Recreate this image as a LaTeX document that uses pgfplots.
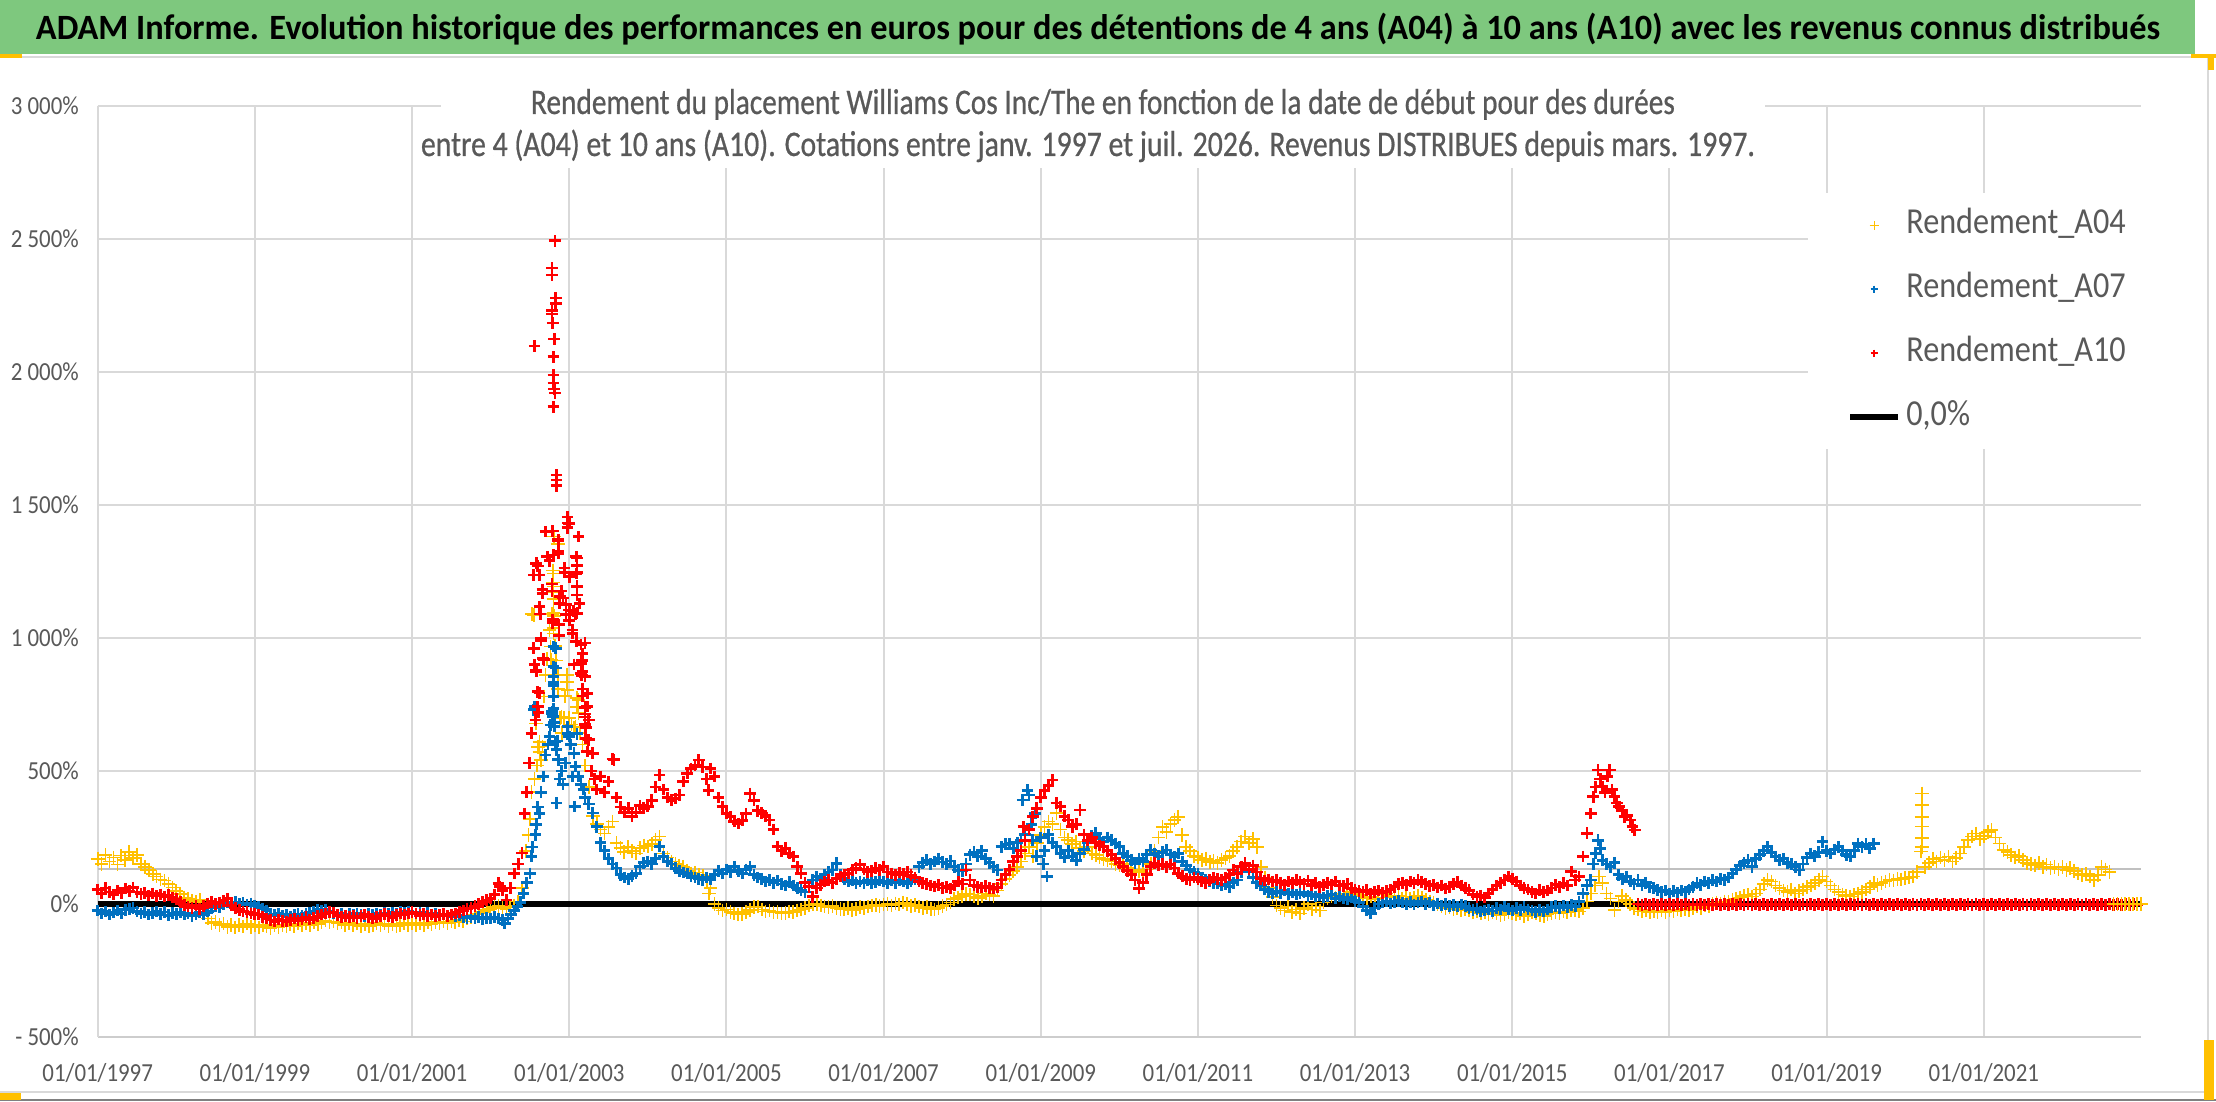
\documentclass[border=0pt]{standalone}
\usepackage{fontspec}
\setmainfont{Carlito}[FakeStretch=0.88]
\newfontfamily\subfont{Carlito}[FakeStretch=0.88,FakeBold=0.6]
\usepackage{graphicx}
\usepackage{pgfplots}
\pgfplotsset{compat=1.18}
\definecolor{gridc}{RGB}{217,217,217}
\definecolor{axc}{RGB}{205,205,205}
\definecolor{extrac}{RGB}{192,192,192}
\definecolor{txtc}{RGB}{89,89,89}
\definecolor{bandg}{RGB}{126,200,126}
\definecolor{a04}{RGB}{255,192,0}
\definecolor{a07}{RGB}{0,112,192}
\definecolor{a10}{RGB}{255,0,0}
\definecolor{selo}{RGB}{255,192,0}
\begin{document}
\begin{tikzpicture}
\path[fill=white,use as bounding box] (0pt,0pt) rectangle (1108pt,551pt);
\begin{axis}[
  at={(48.85pt,32.5pt)}, anchor=south west,
  scale only axis, width=1021.65pt, height=465.5pt,
  xmin=1997, xmax=2023, ymin=-500, ymax=3000,
  xtick={1997,1999,2001,2003,2005,2007,2009,2011,2013,2015,2017,2019,2021},
  xticklabels={01/01/1997,01/01/1999,01/01/2001,01/01/2003,01/01/2005,01/01/2007,01/01/2009,01/01/2011,01/01/2013,01/01/2015,01/01/2017,01/01/2019,01/01/2021},
  ytick={-500,0,500,1000,1500,2000,2500,3000},
  yticklabels={- 500\%,0\%,500\%,1 000\%,1 500\%,2 000\%,2 500\%,3 000\%},
  grid=major, major grid style={draw=gridc, line width=1pt},
  axis x line*=bottom, axis y line*=left,
  x axis line style={draw=axc, line width=1.4pt, -},
  y axis line style={draw=gridc, line width=1pt, -},
  tick style={draw=none},
  ticklabel style={font=\fontsize{13}{15}\selectfont, text=txtc},
  xticklabel style={anchor=center, inner sep=0pt, yshift=-18pt},
  yticklabel style={anchor=east, inner sep=0pt, xshift=-9.3pt},
  legend image code/.code={\draw[mark repeat=2,mark phase=2,#1] plot coordinates {(0pt,0pt) (12pt,0pt) (24pt,0pt)};},
  legend cell align=left,
  legend style={at={(0.837,0.9066)}, anchor=north west, draw=none, fill=white,
    font=\fontsize{18.3}{22}\selectfont, text=txtc,
    inner xsep=19.5pt, inner ysep=8pt, row sep=16pt,
    nodes={inner sep=0pt, text height=12pt, text depth=4pt},
    /tikz/every odd column/.style={column sep=2.5pt}},
]
\addplot[extrac, line width=1pt, forget plot] coordinates {(1997,131.6) (2023,131.6)};
% ---------------- A04 ----------------
\addplot[only marks, mark=+, color=a04, mark size=3.4pt, line width=0.8pt, legend image post style={mark size=2.3pt, line width=0.6pt}] coordinates {
(1997.00,170) (1997.05,150) (1997.10,185) (1997.15,160) (1997.20,175) (1997.25,148) (1997.30,182) (1997.35,165) (1997.40,195) (1997.45,172) (1997.50,185) (1997.55,150) (1997.60,140) (1997.65,128) (1997.70,112) (1997.75,104) (1997.80,92) (1997.85,88) (1997.90,76) (1997.95,62)
(1998.00,48) (1998.05,38) (1998.10,25) (1998.15,18) (1998.20,12) (1998.25,8) (1998.30,15) (1998.35,-5) (1998.40,-55) (1998.45,-72) (1998.50,-68) (1998.55,-80) (1998.60,-74) (1998.65,-86) (1998.70,-78) (1998.75,-88) (1998.80,-80) (1998.85,-84) (1998.90,-74) (1998.95,-86)
(1999.00,-80) (1999.05,-88) (1999.10,-78) (1999.15,-84) (1999.20,-90) (1999.25,-80) (1999.30,-86) (1999.35,-78) (1999.40,-84) (1999.45,-76) (1999.50,-82) (1999.55,-74) (1999.60,-80) (1999.65,-72) (1999.70,-78) (1999.75,-70) (1999.80,-76) (1999.85,-68) (1999.90,-62) (1999.95,-70)
(2000.00,-66) (2000.05,-74) (2000.10,-70) (2000.15,-78) (2000.20,-72) (2000.25,-80) (2000.30,-74) (2000.35,-82) (2000.40,-76) (2000.45,-84) (2000.50,-78) (2000.55,-72) (2000.60,-80) (2000.65,-74) (2000.70,-82) (2000.75,-76) (2000.80,-84) (2000.85,-78) (2000.90,-72) (2000.95,-80)
(2001.00,-74) (2001.05,-80) (2001.10,-72) (2001.15,-78) (2001.20,-70) (2001.25,-76) (2001.30,-68) (2001.35,-74) (2001.40,-66) (2001.45,-72) (2001.50,-64) (2001.55,-70) (2001.60,-60) (2001.65,-66) (2001.70,-55) (2001.75,-48) (2001.80,-40) (2001.85,-36) (2001.90,-30) (2001.95,-22)
(2002.00,-18) (2002.05,-12) (2002.10,-8) (2002.15,-15) (2002.20,-20) (2002.25,-12) (2002.30,-5) (2002.35,10) (2002.40,60)
(2002.45,200) (2002.48,260) (2002.50,320) (2002.52,420) (2002.53,1090) (2002.55,1086) (2002.56,470) (2002.58,679) (2002.59,520) (2002.60,590) (2002.62,610) (2002.62,572) (2002.64,542) (2002.66,592) (2002.68,780) (2002.70,860) (2002.72,920) (2002.75,1030) (2002.76,968) (2002.77,918) (2002.78,1090) (2002.79,1254) (2002.79,1209) (2002.80,1243) (2002.80,1193) (2002.80,1173) (2002.80,1147) (2002.80,1093) (2002.80,1037) (2002.80,1017) (2002.81,1381) (2002.81,1083) (2002.82,970) (2002.83,915) (2002.86,1353) (2002.86,861) (2002.86,808) (2002.88,700) (2002.90,704) (2002.91,642) (2002.93,700) (2002.95,782) (2002.97,861) (2002.97,834) (2002.98,805) (2003.00,700) (2003.03,675) (2003.06,663) (2003.08,667) (2003.10,775) (2003.10,741) (2003.12,767) (2003.12,717) (2003.14,642) (2003.17,600)
(2003.20,520) (2003.25,440) (2003.30,330) (2003.35,300) (2003.40,280) (2003.45,265) (2003.50,290) (2003.55,310) (2003.60,230) (2003.65,210) (2003.70,195) (2003.75,215) (2003.80,200) (2003.85,190) (2003.90,210) (2003.95,220)
(2004.00,216) (2004.05,225) (2004.10,240) (2004.15,253) (2004.20,190) (2004.25,175) (2004.30,160) (2004.35,150) (2004.40,145) (2004.45,140) (2004.50,125) (2004.55,115) (2004.60,118) (2004.65,110) (2004.70,105) (2004.75,90) (2004.78,40) (2004.80,60) (2004.85,0) (2004.90,-15) (2004.95,-25)
(2005.00,-20) (2005.05,-30) (2005.10,-35) (2005.15,-40) (2005.20,-38) (2005.25,-30) (2005.30,-22) (2005.35,-12) (2005.40,-10) (2005.45,-20) (2005.50,-28) (2005.55,-25) (2005.60,-32) (2005.65,-30) (2005.70,-35) (2005.75,-34) (2005.80,-28) (2005.85,-30) (2005.90,-24) (2005.95,-20)
(2006.00,-14) (2006.05,-5) (2006.10,-2) (2006.15,0) (2006.20,-5) (2006.25,-10) (2006.30,-12) (2006.35,-8) (2006.40,-14) (2006.45,-18) (2006.50,-20) (2006.55,-16) (2006.60,-22) (2006.65,-18) (2006.70,-12) (2006.75,-15) (2006.80,-10) (2006.85,-6) (2006.90,-4) (2006.95,-8)
(2007.00,-2) (2007.05,0) (2007.10,-5) (2007.15,2) (2007.20,-2) (2007.25,5) (2007.30,0) (2007.35,-8) (2007.40,-4) (2007.45,-10) (2007.50,-16) (2007.55,-12) (2007.60,-18) (2007.65,-20) (2007.70,-14) (2007.75,-8) (2007.80,-2) (2007.85,5) (2007.90,18) (2007.95,25)
(2008.00,30) (2008.05,38) (2008.10,35) (2008.15,28) (2008.20,22) (2008.25,30) (2008.30,40) (2008.35,35) (2008.40,30) (2008.45,50) (2008.50,75) (2008.55,95) (2008.60,110) (2008.65,125) (2008.70,140) (2008.75,160) (2008.80,190) (2008.85,215) (2008.90,180) (2008.95,230)
(2009.00,260) (2009.05,290) (2009.10,310) (2009.15,300) (2009.20,341) (2009.25,280) (2009.30,250) (2009.35,240) (2009.40,225) (2009.45,235) (2009.50,210) (2009.55,200) (2009.60,215) (2009.65,190) (2009.70,185) (2009.75,175) (2009.80,170) (2009.85,165) (2009.90,160) (2009.95,150)
(2010.00,145) (2010.05,150) (2010.10,135) (2010.15,128) (2010.20,120) (2010.25,125) (2010.30,118) (2010.35,130) (2010.40,150) (2010.45,200) (2010.50,250) (2010.55,290) (2010.60,270) (2010.65,300) (2010.70,316) (2010.75,328) (2010.80,260) (2010.85,215) (2010.90,200) (2010.95,180)
(2011.00,175) (2011.05,165) (2011.10,170) (2011.15,158) (2011.20,162) (2011.25,155) (2011.30,165) (2011.35,172) (2011.40,180) (2011.45,200) (2011.50,215) (2011.55,235) (2011.60,253) (2011.65,230) (2011.70,245) (2011.75,215) (2011.80,140) (2011.85,100) (2011.90,60) (2011.95,27)
(2012.00,-5) (2012.05,-15) (2012.10,-25) (2012.15,-10) (2012.20,-30) (2012.25,-20) (2012.30,-35) (2012.35,-15) (2012.40,0) (2012.45,-20) (2012.50,-10) (2012.55,-25) (2012.60,5) (2012.65,20) (2012.70,30) (2012.75,25) (2012.80,35) (2012.85,40) (2012.90,30) (2012.95,45)
(2013.00,38) (2013.05,30) (2013.10,35) (2013.15,22) (2013.20,28) (2013.25,18) (2013.30,25) (2013.35,35) (2013.40,40) (2013.45,30) (2013.50,25) (2013.55,32) (2013.60,20) (2013.65,28) (2013.70,18) (2013.75,25) (2013.80,30) (2013.85,22) (2013.90,15) (2013.95,10)
(2014.00,5) (2014.05,-2) (2014.10,-10) (2014.15,-15) (2014.20,-12) (2014.25,-20) (2014.30,-16) (2014.35,-22) (2014.40,-18) (2014.45,-25) (2014.50,-30) (2014.55,-28) (2014.60,-35) (2014.65,-32) (2014.70,-40) (2014.75,-30) (2014.80,-36) (2014.85,-42) (2014.90,-38) (2014.95,-30)
(2015.00,-34) (2015.05,-40) (2015.10,-36) (2015.15,-44) (2015.20,-38) (2015.25,-30) (2015.30,-36) (2015.35,-42) (2015.40,-46) (2015.45,-40) (2015.50,-35) (2015.55,-30) (2015.60,-34) (2015.65,-28) (2015.70,-32) (2015.75,-25) (2015.80,-22) (2015.85,-28) (2015.90,-15) (2015.95,10)
(2016.00,40) (2016.05,70) (2016.10,103) (2016.15,80) (2016.20,40) (2016.25,20) (2016.30,-22) (2016.35,10) (2016.40,30) (2016.45,15) (2016.50,0) (2016.55,-15) (2016.60,-20) (2016.65,-28) (2016.70,-22) (2016.75,-30) (2016.80,-26) (2016.85,-32) (2016.90,-25) (2016.95,-30)
(2017.00,-22) (2017.05,-28) (2017.10,-20) (2017.15,-25) (2017.20,-18) (2017.25,-22) (2017.30,-15) (2017.35,-10) (2017.40,-14) (2017.45,-5) (2017.50,-8) (2017.55,0) (2017.60,5) (2017.65,2) (2017.70,10) (2017.75,8) (2017.80,15) (2017.85,20) (2017.90,25) (2017.95,30)
(2018.00,35) (2018.05,28) (2018.10,40) (2018.15,55) (2018.20,75) (2018.25,90) (2018.30,85) (2018.35,70) (2018.40,60) (2018.45,50) (2018.50,45) (2018.55,55) (2018.60,40) (2018.65,48) (2018.70,55) (2018.75,65) (2018.80,70) (2018.85,80) (2018.90,90) (2018.95,103)
(2019.00,85) (2019.05,70) (2019.10,55) (2019.15,45) (2019.20,35) (2019.25,30) (2019.30,28) (2019.35,35) (2019.40,40) (2019.45,45) (2019.50,55) (2019.55,65) (2019.60,78) (2019.65,72) (2019.70,80) (2019.75,85) (2019.80,90) (2019.85,88) (2019.90,95) (2019.95,92)
(2020.00,98) (2020.05,100) (2020.10,103) (2020.15,120) (2020.20,197) (2020.21,215) (2020.21,247) (2020.21,291) (2020.21,328) (2020.21,372) (2020.21,416) (2020.25,140) (2020.30,153) (2020.35,170) (2020.40,160) (2020.45,175) (2020.50,165) (2020.55,178) (2020.60,160) (2020.65,172) (2020.70,190) (2020.75,215) (2020.80,240) (2020.85,253) (2020.90,265) (2020.95,245)
(2021.00,255) (2021.05,270) (2021.10,278) (2021.15,250) (2021.20,228) (2021.25,203) (2021.30,195) (2021.35,185) (2021.40,175) (2021.45,180) (2021.50,165) (2021.55,155) (2021.60,150) (2021.65,145) (2021.70,153) (2021.75,140) (2021.80,148) (2021.85,135) (2021.90,140) (2021.95,130)
(2022.00,138) (2022.05,128) (2022.10,135) (2022.15,125) (2022.20,115) (2022.25,108) (2022.30,112) (2022.35,103) (2022.40,90) (2022.45,110) (2022.50,140) (2022.55,130) (2022.60,120)
};
\addlegendentry{Rendement\_A04}
% ---------------- A07 ----------------
\addplot[only marks, mark=+, color=a07, mark size=2.9pt, line width=1.4pt, legend image post style={mark size=1.9pt, line width=1.1pt}] coordinates {
(1997.00,-25) (1997.05,-35) (1997.10,-28) (1997.15,-40) (1997.20,-32) (1997.25,-25) (1997.30,-35) (1997.35,-22) (1997.40,-18) (1997.45,-15) (1997.50,-28) (1997.55,-35) (1997.60,-30) (1997.65,-40) (1997.70,-33) (1997.75,-28) (1997.80,-38) (1997.85,-30) (1997.90,-42) (1997.95,-34)
(1998.00,-38) (1998.05,-30) (1998.10,-40) (1998.15,-35) (1998.20,-45) (1998.25,-38) (1998.30,-32) (1998.35,-40) (1998.40,-28) (1998.45,-15) (1998.50,-8) (1998.55,-12) (1998.60,-2) (1998.65,5) (1998.70,2) (1998.75,7) (1998.80,0) (1998.85,4) (1998.90,-3) (1998.95,2)
(1999.00,-5) (1999.05,-12) (1999.10,-18) (1999.15,-25) (1999.20,-38) (1999.25,-42) (1999.30,-35) (1999.35,-45) (1999.40,-40) (1999.45,-48) (1999.50,-42) (1999.55,-38) (1999.60,-44) (1999.65,-36) (1999.70,-32) (1999.75,-28) (1999.80,-22) (1999.85,-26) (1999.90,-20) (1999.95,-28)
(2000.00,-34) (2000.05,-40) (2000.10,-36) (2000.15,-44) (2000.20,-38) (2000.25,-42) (2000.30,-35) (2000.35,-40) (2000.40,-45) (2000.45,-38) (2000.50,-42) (2000.55,-36) (2000.60,-40) (2000.65,-34) (2000.70,-38) (2000.75,-32) (2000.80,-36) (2000.85,-30) (2000.90,-34) (2000.95,-28)
(2001.00,-30) (2001.05,-36) (2001.10,-32) (2001.15,-38) (2001.20,-34) (2001.25,-40) (2001.30,-36) (2001.35,-42) (2001.40,-38) (2001.45,-44) (2001.50,-40) (2001.55,-46) (2001.60,-42) (2001.65,-48) (2001.70,-52) (2001.75,-48) (2001.80,-55) (2001.85,-50) (2001.90,-56) (2001.95,-52)
(2002.00,-55) (2002.05,-50) (2002.10,-54) (2002.15,-60) (2002.18,-73) (2002.22,-55) (2002.26,-40) (2002.30,-25) (2002.34,-10) (2002.38,7) (2002.42,40) (2002.46,80) (2002.50,115)
(2002.52,180) (2002.53,214) (2002.55,730) (2002.56,741) (2002.57,260) (2002.58,300) (2002.60,365) (2002.62,340) (2002.64,420) (2002.67,480) (2002.70,560) (2002.73,600) (2002.75,629) (2002.76,673) (2002.78,714) (2002.78,724) (2002.79,704) (2002.80,968) (2002.80,893) (2002.80,855) (2002.80,780) (2002.80,834) (2002.80,822) (2002.80,734) (2002.81,682) (2002.81,667) (2002.82,610) (2002.83,962) (2002.83,887) (2002.84,580) (2002.84,380) (2002.85,613) (2002.86,542) (2002.88,470) (2002.90,500) (2002.92,450) (2002.95,530) (2002.98,667) (2002.98,640) (2003.00,629) (2003.02,600) (2003.04,480) (2003.06,567) (2003.07,366) (2003.08,517) (2003.10,640) (2003.12,480) (2003.15,450) (2003.18,430)
(2003.20,400) (2003.25,376) (2003.30,342) (2003.35,290) (2003.40,230) (2003.45,200) (2003.50,170) (2003.55,150) (2003.60,135) (2003.65,110) (2003.70,100) (2003.75,95) (2003.80,105) (2003.85,115) (2003.90,140) (2003.95,155)
(2004.00,160) (2004.05,150) (2004.10,170) (2004.15,216) (2004.20,178) (2004.25,160) (2004.30,150) (2004.35,135) (2004.40,125) (2004.45,118) (2004.50,115) (2004.55,105) (2004.60,100) (2004.65,95) (2004.70,90) (2004.75,100) (2004.80,92) (2004.85,110) (2004.90,125) (2004.95,115)
(2005.00,130) (2005.05,120) (2005.10,140) (2005.15,125) (2005.20,115) (2005.25,130) (2005.30,140) (2005.35,110) (2005.40,100) (2005.45,95) (2005.50,85) (2005.55,90) (2005.60,80) (2005.65,88) (2005.70,75) (2005.75,70) (2005.80,82) (2005.85,70) (2005.90,60) (2005.95,52)
(2006.00,45) (2006.05,65) (2006.10,90) (2006.15,103) (2006.20,95) (2006.25,110) (2006.30,120) (2006.35,128) (2006.40,153) (2006.45,110) (2006.50,95) (2006.55,85) (2006.60,90) (2006.65,78) (2006.70,85) (2006.75,80) (2006.80,88) (2006.85,78) (2006.90,82) (2006.95,90)
(2007.00,85) (2007.05,78) (2007.10,88) (2007.15,80) (2007.20,90) (2007.25,84) (2007.30,78) (2007.35,86) (2007.40,95) (2007.45,140) (2007.50,155) (2007.55,165) (2007.60,150) (2007.65,160) (2007.70,170) (2007.75,158) (2007.80,150) (2007.85,162) (2007.90,140) (2007.95,128)
(2008.00,125) (2008.05,150) (2008.10,185) (2008.15,195) (2008.20,180) (2008.25,200) (2008.30,170) (2008.35,155) (2008.40,140) (2008.45,128) (2008.50,215) (2008.55,225) (2008.60,228) (2008.65,210) (2008.70,230) (2008.75,240) (2008.77,391) (2008.80,260) (2008.83,428) (2008.85,410) (2008.88,300) (2008.90,240) (2008.93,341) (2008.95,180)
(2009.00,250) (2009.03,150) (2009.05,200) (2009.08,103) (2009.10,260) (2009.15,230) (2009.20,215) (2009.25,190) (2009.30,175) (2009.35,200) (2009.40,180) (2009.45,165) (2009.50,190) (2009.55,205) (2009.60,230) (2009.65,255) (2009.70,266) (2009.75,245) (2009.80,235) (2009.85,250) (2009.90,240) (2009.95,228)
(2010.00,215) (2010.05,190) (2010.10,180) (2010.15,165) (2010.20,153) (2010.25,170) (2010.30,160) (2010.35,185) (2010.40,203) (2010.45,190) (2010.50,180) (2010.55,195) (2010.60,203) (2010.65,185) (2010.70,178) (2010.75,190) (2010.80,160) (2010.85,145) (2010.90,130) (2010.95,120)
(2011.00,115) (2011.05,100) (2011.10,90) (2011.15,85) (2011.20,80) (2011.25,78) (2011.30,70) (2011.35,75) (2011.40,65) (2011.45,80) (2011.50,90) (2011.55,120) (2011.60,153) (2011.65,120) (2011.70,100) (2011.75,80) (2011.80,70) (2011.85,55) (2011.90,45) (2011.95,40)
(2012.00,48) (2012.05,42) (2012.10,50) (2012.15,38) (2012.20,44) (2012.25,35) (2012.30,40) (2012.35,45) (2012.40,30) (2012.45,36) (2012.50,28) (2012.55,32) (2012.60,25) (2012.65,30) (2012.70,35) (2012.75,22) (2012.80,28) (2012.85,20) (2012.90,18) (2012.95,25)
(2013.00,12) (2013.05,5) (2013.10,-10) (2013.15,-25) (2013.20,-35) (2013.25,-15) (2013.30,0) (2013.35,5) (2013.40,10) (2013.45,2) (2013.50,8) (2013.55,12) (2013.60,5) (2013.65,0) (2013.70,8) (2013.75,-2) (2013.80,5) (2013.85,10) (2013.90,0) (2013.95,6)
(2014.00,-5) (2014.05,2) (2014.10,-6) (2014.15,0) (2014.20,-8) (2014.25,-4) (2014.30,-10) (2014.35,-2) (2014.40,-8) (2014.45,-15) (2014.50,-22) (2014.55,-18) (2014.60,-28) (2014.65,-25) (2014.70,-20) (2014.75,-26) (2014.80,-15) (2014.85,-20) (2014.90,-10) (2014.95,-18)
(2015.00,-24) (2015.05,-16) (2015.10,-22) (2015.15,-12) (2015.20,-20) (2015.25,-25) (2015.30,-30) (2015.35,-22) (2015.40,-28) (2015.45,-20) (2015.50,-12) (2015.55,-8) (2015.60,-14) (2015.65,-6) (2015.70,-12) (2015.75,-4) (2015.80,-10) (2015.85,10) (2015.90,40) (2015.95,70)
(2016.00,90) (2016.03,150) (2016.06,190) (2016.09,240) (2016.12,210) (2016.15,165) (2016.20,150) (2016.25,140) (2016.30,155) (2016.35,110) (2016.40,95) (2016.45,103) (2016.50,85) (2016.55,75) (2016.60,90) (2016.65,70) (2016.70,80) (2016.75,65) (2016.80,60) (2016.85,52) (2016.90,45) (2016.95,50)
(2017.00,40) (2017.05,48) (2017.10,42) (2017.15,50) (2017.20,45) (2017.25,55) (2017.30,65) (2017.35,78) (2017.40,72) (2017.45,85) (2017.50,80) (2017.55,90) (2017.60,85) (2017.65,95) (2017.70,90) (2017.75,100) (2017.80,115) (2017.85,130) (2017.90,145) (2017.95,155)
(2018.00,165) (2018.05,140) (2018.10,170) (2018.15,185) (2018.20,200) (2018.25,215) (2018.30,195) (2018.35,178) (2018.40,165) (2018.45,170) (2018.50,155) (2018.55,150) (2018.60,140) (2018.65,128) (2018.70,150) (2018.75,175) (2018.80,190) (2018.85,180) (2018.90,195) (2018.95,234)
(2019.00,200) (2019.05,190) (2019.10,205) (2019.15,215) (2019.20,200) (2019.25,185) (2019.30,178) (2019.35,200) (2019.40,228) (2019.45,215) (2019.50,225) (2019.55,210) (2019.60,228)
};
\addlegendentry{Rendement\_A07}
% ---------------- zero line ----------------
\addplot[black, line width=3pt, forget plot] coordinates {(1997,0) (2023,0)};
% ---------------- A10 ----------------
\addplot[only marks, mark=+, color=a10, mark size=2.9pt, line width=1.4pt, legend image post style={mark size=1.9pt, line width=1.1pt}] coordinates {
(1997.00,55) (1997.05,40) (1997.10,60) (1997.15,45) (1997.20,35) (1997.25,50) (1997.30,42) (1997.35,58) (1997.40,48) (1997.45,62) (1997.50,45) (1997.55,38) (1997.60,42) (1997.65,32) (1997.70,40) (1997.75,30) (1997.80,36) (1997.85,28) (1997.90,34) (1997.95,25)
(1998.00,18) (1998.05,8) (1998.10,-3) (1998.15,-10) (1998.20,-15) (1998.25,-5) (1998.30,-18) (1998.35,-8) (1998.40,2) (1998.45,8) (1998.50,0) (1998.55,5) (1998.60,12) (1998.65,20) (1998.70,-5) (1998.75,-15) (1998.80,-22) (1998.85,-28) (1998.90,-30) (1998.95,-35)
(1999.00,-38) (1999.05,-40) (1999.10,-48) (1999.15,-55) (1999.20,-60) (1999.25,-66) (1999.30,-58) (1999.35,-64) (1999.40,-66) (1999.45,-60) (1999.50,-55) (1999.55,-62) (1999.60,-56) (1999.65,-50) (1999.70,-58) (1999.75,-52) (1999.80,-46) (1999.85,-40) (1999.90,-35) (1999.95,-30)
(2000.00,-32) (2000.05,-42) (2000.10,-48) (2000.15,-44) (2000.20,-50) (2000.25,-45) (2000.30,-52) (2000.35,-46) (2000.40,-40) (2000.45,-48) (2000.50,-55) (2000.55,-50) (2000.60,-44) (2000.65,-38) (2000.70,-45) (2000.75,-50) (2000.80,-42) (2000.85,-36) (2000.90,-40) (2000.95,-35)
(2001.00,-30) (2001.05,-36) (2001.10,-42) (2001.15,-38) (2001.20,-44) (2001.25,-40) (2001.30,-46) (2001.35,-42) (2001.40,-38) (2001.45,-44) (2001.50,-40) (2001.55,-35) (2001.60,-30) (2001.65,-25) (2001.70,-18) (2001.75,-15) (2001.80,-8) (2001.85,0) (2001.90,8) (2001.95,15)
(2002.00,20) (2002.05,35) (2002.10,78) (2002.12,66) (2002.15,50) (2002.20,15) (2002.25,60) (2002.30,115) (2002.35,150) (2002.40,192) (2002.43,340) (2002.46,420) (2002.49,530)
(2002.52,642) (2002.55,962) (2002.55,1237) (2002.56,2098) (2002.56,901) (2002.57,692) (2002.58,1281) (2002.58,880) (2002.58,875) (2002.60,798) (2002.60,1271) (2002.60,741) (2002.61,720) (2002.62,1237) (2002.62,793) (2002.62,1117) (2002.63,1090) (2002.64,999) (2002.64,990) (2002.66,1181) (2002.66,1168) (2002.67,922) (2002.68,918) (2002.70,1400) (2002.72,1306) (2002.75,1290) (2002.78,2391) (2002.78,2365) (2002.78,2230) (2002.78,2218) (2002.78,1203) (2002.78,1177) (2002.79,2184) (2002.79,1402) (2002.79,1069) (2002.79,1057) (2002.80,2057) (2002.80,1989) (2002.80,1959) (2002.80,1869) (2002.80,1312) (2002.81,2124) (2002.81,1936) (2002.82,2493) (2002.82,1921) (2002.83,2278) (2002.83,2257) (2002.84,1613) (2002.84,1594) (2002.84,1572) (2002.86,1369) (2002.86,1365) (2002.86,1324) (2002.86,1319) (2002.87,1050) (2002.87,1009) (2002.88,1155) (2002.88,1130) (2002.90,1177) (2002.92,1150) (2002.94,1263) (2002.94,1247) (2002.96,1126) (2002.96,1088) (2002.98,1455) (2002.98,1432) (2002.98,1414) (2003.00,1431) (2003.00,1230) (2003.00,1105) (2003.00,1067) (2003.04,1030) (2003.04,1017) (2003.05,1102) (2003.06,901) (2003.08,1090) (2003.09,1306) (2003.09,1243) (2003.09,988) (2003.10,1301) (2003.10,1273) (2003.10,1247) (2003.10,1195) (2003.10,1162) (2003.10,1193) (2003.10,1093) (2003.12,1381) (2003.13,1130) (2003.15,976) (2003.15,905) (2003.15,867) (2003.16,915) (2003.16,860) (2003.17,942) (2003.17,875) (2003.17,808) (2003.17,782) (2003.20,981) (2003.20,855) (2003.20,740) (2003.20,714) (2003.20,703) (2003.20,675) (2003.21,663) (2003.21,623) (2003.23,792) (2003.23,742) (2003.23,573) (2003.25,692) (2003.25,617) (2003.28,500) (2003.30,567)
(2003.32,470) (2003.35,430) (2003.40,480) (2003.45,420) (2003.50,460) (2003.55,545) (2003.57,542) (2003.60,400) (2003.65,365) (2003.70,345) (2003.75,360) (2003.80,330) (2003.85,345) (2003.90,370) (2003.95,360)
(2004.00,366) (2004.05,390) (2004.10,440) (2004.15,485) (2004.20,430) (2004.25,400) (2004.30,390) (2004.35,397) (2004.40,410) (2004.45,460) (2004.50,490) (2004.55,510) (2004.60,520) (2004.65,541) (2004.70,515) (2004.75,470) (2004.77,428) (2004.80,510) (2004.85,480) (2004.90,400) (2004.95,366)
(2005.00,340) (2005.05,328) (2005.10,310) (2005.15,303) (2005.20,315) (2005.25,340) (2005.30,416) (2005.35,390) (2005.40,350) (2005.45,341) (2005.50,330) (2005.55,316) (2005.60,280) (2005.65,216) (2005.70,200) (2005.75,210) (2005.80,190) (2005.85,178) (2005.90,140) (2005.95,115)
(2006.00,80) (2006.05,65) (2006.10,27) (2006.15,60) (2006.20,72) (2006.25,85) (2006.30,90) (2006.35,80) (2006.40,95) (2006.45,103) (2006.50,110) (2006.55,115) (2006.60,128) (2006.65,135) (2006.70,147) (2006.75,130) (2006.80,120) (2006.85,125) (2006.90,135) (2006.95,128)
(2007.00,140) (2007.05,120) (2007.10,115) (2007.15,110) (2007.20,118) (2007.25,112) (2007.30,120) (2007.35,108) (2007.40,100) (2007.45,84) (2007.50,78) (2007.55,75) (2007.60,70) (2007.65,66) (2007.70,72) (2007.75,60) (2007.80,65) (2007.85,59) (2007.90,70) (2007.95,84)
(2008.00,75) (2008.05,128) (2008.10,90) (2008.15,70) (2008.20,65) (2008.25,62) (2008.30,68) (2008.35,60) (2008.40,58) (2008.45,62) (2008.50,90) (2008.55,110) (2008.60,130) (2008.65,160) (2008.70,178) (2008.75,200) (2008.78,290) (2008.80,240) (2008.85,280) (2008.90,328) (2008.95,360)
(2009.00,400) (2009.05,428) (2009.10,445) (2009.15,466) (2009.20,380) (2009.25,366) (2009.30,330) (2009.35,316) (2009.40,290) (2009.45,300) (2009.50,353) (2009.55,260) (2009.60,240) (2009.65,250) (2009.70,230) (2009.75,220) (2009.80,215) (2009.85,200) (2009.90,185) (2009.95,170)
(2010.00,155) (2010.05,140) (2010.10,125) (2010.15,110) (2010.20,90) (2010.25,59) (2010.30,80) (2010.35,110) (2010.40,140) (2010.45,153) (2010.50,145) (2010.55,150) (2010.60,140) (2010.65,148) (2010.70,135) (2010.75,115) (2010.80,105) (2010.85,95) (2010.90,90) (2010.95,100)
(2011.00,95) (2011.05,85) (2011.10,80) (2011.15,90) (2011.20,100) (2011.25,95) (2011.30,90) (2011.35,100) (2011.40,110) (2011.45,128) (2011.50,115) (2011.55,140) (2011.60,153) (2011.65,130) (2011.70,145) (2011.75,120) (2011.80,95) (2011.85,88) (2011.90,92) (2011.95,85)
(2012.00,90) (2012.05,80) (2012.10,72) (2012.15,85) (2012.20,78) (2012.25,90) (2012.30,82) (2012.35,75) (2012.40,88) (2012.45,70) (2012.50,78) (2012.55,65) (2012.60,72) (2012.65,80) (2012.70,74) (2012.75,85) (2012.80,70) (2012.85,68) (2012.90,75) (2012.95,60)
(2013.00,55) (2013.05,48) (2013.10,45) (2013.15,52) (2013.20,40) (2013.25,44) (2013.30,50) (2013.35,42) (2013.40,48) (2013.45,55) (2013.50,65) (2013.55,75) (2013.60,80) (2013.65,72) (2013.70,85) (2013.75,78) (2013.80,90) (2013.85,82) (2013.90,75) (2013.95,68)
(2014.00,72) (2014.05,62) (2014.10,70) (2014.15,58) (2014.20,65) (2014.25,75) (2014.30,82) (2014.35,70) (2014.40,60) (2014.45,52) (2014.50,35) (2014.55,27) (2014.60,32) (2014.65,25) (2014.70,40) (2014.75,55) (2014.80,70) (2014.85,80) (2014.90,90) (2014.95,103)
(2015.00,95) (2015.05,85) (2015.10,70) (2015.15,60) (2015.20,55) (2015.25,45) (2015.30,40) (2015.35,52) (2015.40,44) (2015.45,50) (2015.50,60) (2015.55,72) (2015.60,65) (2015.65,78) (2015.70,70) (2015.75,122) (2015.80,90) (2015.85,103) (2015.90,178) (2015.95,266)
(2016.00,340) (2016.03,403) (2016.06,440) (2016.09,504) (2016.12,470) (2016.15,441) (2016.18,420) (2016.21,480) (2016.24,504) (2016.27,430) (2016.30,403) (2016.33,380) (2016.36,366) (2016.40,350) (2016.43,328) (2016.46,334) (2016.50,316) (2016.53,290) (2016.56,278)
(2016.60,0) (2016.65,-3) (2016.70,0) (2016.75,-3) (2016.80,0) (2016.85,-3) (2016.90,0) (2016.95,-3)
(2017.00,0) (2017.05,-3) (2017.10,0) (2017.15,-3) (2017.20,0) (2017.25,-3) (2017.30,0) (2017.35,-3) (2017.40,0) (2017.45,-3) (2017.50,0) (2017.55,-3) (2017.60,0) (2017.65,-3) (2017.70,0) (2017.75,-3) (2017.80,0) (2017.85,-3) (2017.90,0) (2017.95,-3)
(2018.00,0) (2018.05,-3) (2018.10,0) (2018.15,-3) (2018.20,0) (2018.25,-3) (2018.30,0) (2018.35,-3) (2018.40,0) (2018.45,-3) (2018.50,0) (2018.55,-3) (2018.60,0) (2018.65,-3) (2018.70,0) (2018.75,-3) (2018.80,0) (2018.85,-3) (2018.90,0) (2018.95,-3)
(2019.00,0) (2019.05,-3) (2019.10,0) (2019.15,-3) (2019.20,0) (2019.25,-3) (2019.30,0) (2019.35,-3) (2019.40,0) (2019.45,-3) (2019.50,0) (2019.55,-3) (2019.60,0) (2019.65,-3) (2019.70,0) (2019.75,-3) (2019.80,0) (2019.85,-3) (2019.90,0) (2019.95,-3)
(2020.00,0) (2020.05,-3) (2020.10,0) (2020.15,-3) (2020.20,0) (2020.25,-3) (2020.30,0) (2020.35,-3) (2020.40,0) (2020.45,-3) (2020.50,0) (2020.55,-3) (2020.60,0) (2020.65,-3) (2020.70,0) (2020.75,-3) (2020.80,0) (2020.85,-3) (2020.90,0) (2020.95,-3)
(2021.00,0) (2021.05,-3) (2021.10,0) (2021.15,-3) (2021.20,0) (2021.25,-3) (2021.30,0) (2021.35,-3) (2021.40,0) (2021.45,-3) (2021.50,0) (2021.55,-3) (2021.60,0) (2021.65,-3) (2021.70,0) (2021.75,-3) (2021.80,0) (2021.85,-3) (2021.90,0) (2021.95,-3)
(2022.00,0) (2022.05,-3) (2022.10,0) (2022.15,-3) (2022.20,0) (2022.25,-3) (2022.30,0) (2022.35,-3) (2022.40,0) (2022.45,-3) (2022.50,0) (2022.55,-3) (2022.60,0) (2022.65,-3) (2022.70,0) (2022.75,-3) (2022.80,0) (2022.85,-3) (2022.90,0) (2022.95,-3) (2023.00,0)
};
\addlegendentry{Rendement\_A10}
\addplot[only marks, mark=+, color=a04, mark size=3.4pt, line width=0.8pt, forget plot] coordinates {
(2022.65,0) (2022.70,0) (2022.75,0) (2022.80,0) (2022.85,0) (2022.90,0) (2022.95,0) (2023.00,0)
};
\addlegendimage{black, line width=3pt}
\addlegendentry{0,0\%}
\end{axis}
% frame and decorations
\draw[gridc, line width=0.8pt] (0pt,522.5pt) -- (1104pt,522.5pt) -- (1104pt,5pt) -- (0pt,5pt);
\draw[gray, line width=0.8pt] (0pt,1pt) -- (1108pt,1pt);
\fill[bandg] (0pt,524pt) rectangle (1097.5pt,551pt);
\node[anchor=base, inner sep=0pt] at (549pt,531.3pt) {\resizebox{1062pt}{\height}{\bfseries\fontsize{17.8}{20}\selectfont ADAM Informe. Evolution historique des performances en euros pour des détentions de 4 ans (A04) à 10 ans (A10) avec les revenus connus distribués}};
\fill[white] (220.5pt,467pt) rectangle (882.5pt,512pt);
\node[anchor=base, inner sep=0pt, text=txtc] at (551.5pt,494pt) {\resizebox{572pt}{\height}{\subfont\fontsize{18}{21}\selectfont Rendement du placement Williams Cos Inc/The en fonction de la date de début pour des durées}};
\node[anchor=base, inner sep=0pt, text=txtc] at (544pt,473pt) {\resizebox{667pt}{\height}{\subfont\fontsize{18}{21}\selectfont entre 4 (A04) et 10 ans (A10). Cotations entre janv. 1997 et juil. 2026. Revenus DISTRIBUES depuis mars. 1997.}};
\fill[selo] (0pt,522pt) rectangle (11pt,524pt);
\fill[selo] (0pt,1pt) rectangle (10.5pt,4.5pt);
\fill[selo] (1095.5pt,522pt) rectangle (1108pt,524pt);
\fill[selo] (1104pt,516pt) rectangle (1107pt,524pt);
\fill[selo] (1102pt,1pt) rectangle (1107pt,31pt);
\end{tikzpicture}
\end{document}
